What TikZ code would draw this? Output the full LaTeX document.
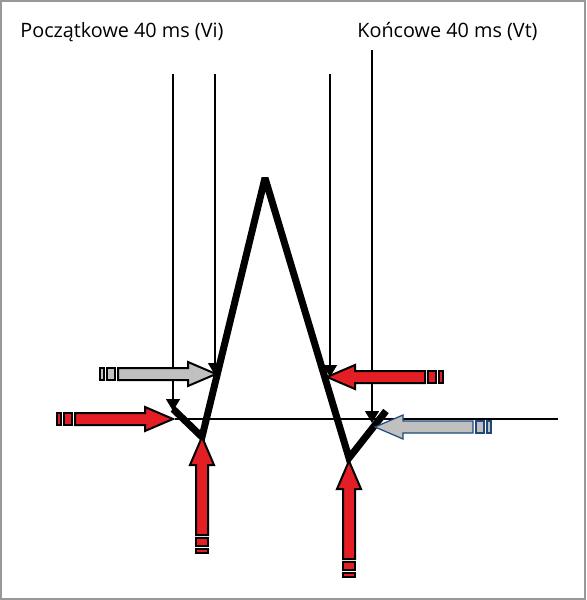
\documentclass[tikz,border=0pt]{standalone}
\usepackage{fontspec}
\setmainfont{Open Sans}
\usetikzlibrary{arrows.meta}

\definecolor{ekgred}{RGB}{227,30,36}
\definecolor{ekggray}{RGB}{192,192,192}
\definecolor{ekgblue}{RGB}{31,73,125}

% block arrow: style, tip coordinate, rotation
\newcommand{\blockarrow}[3]{
\begin{scope}[shift={(#2)},rotate=#3]
	\draw[#1] (0,0) -- (-28,12) -- (-28,6) -- (-98,6) -- (-98,-6) -- (-28,-6) -- (-28,-12) -- cycle;
	\draw[#1] (-101,6) rectangle (-109,-6);
	\draw[#1] (-112,6) rectangle (-116,-6);
\end{scope}
}

\begin{document}
\begin{tikzpicture}[x=0.5pt,y=-0.5pt,
	toplabel/.style={anchor=base west,inner sep=0pt,font=\fontsize{9.9}{12}\selectfont},
	marker/.style={line width=0.7pt,-{Triangle[width=7pt,length=6pt]}},
	redarrow/.style={fill=ekgred,draw=black,line width=1pt,line join=miter},
	grayarrow/.style={fill=ekggray,draw=black,line width=1pt,line join=miter},
	bluearrow/.style={fill=ekggray,draw=ekgblue,line width=0.6pt,line join=miter}]

%frame
\draw[draw=gray!80,line width=1pt,fill=white] (1,1) rectangle (585,599);
\useasboundingbox (0,0) rectangle (586,600);

%labels
\node[toplabel] (vi) at (20,37) {Początkowe 40 ms (Vi)};
\node[toplabel] (vt) at (357,37) {Końcowe 40 ms (Vt)};

%points of the complex
\coordinate (q) at (173,409);
\coordinate (s1) at (202,437);
\coordinate (r) at (265,178);
\coordinate (s2) at (349,458);
\coordinate (j) at (386,411);
\coordinate (up1) at (216,374);
\coordinate (dn1) at (327,377);
\coordinate (j2) at (375,427);

%baseline
\draw[line width=0.6pt] (175,419) -- (558,419);

%time markers
\foreach \x/\top/\bot in {173/74/411,215/74/375,330/74/377,372/50/423}{
	\draw[marker] (\x,\top) -- (\x,\bot);
}

%the complex
\draw[line width=3.5pt,line join=miter,miter limit=3,line cap=butt] (q) -- (s1) -- (r) -- (s2) -- (j);

%block arrows
\blockarrow{grayarrow}{up1}{0}
\blockarrow{redarrow}{173,419}{0}
\blockarrow{redarrow}{s1}{90}
\blockarrow{redarrow}{dn1}{180}
\blockarrow{bluearrow}{j2}{180}
\blockarrow{redarrow}{349,461}{90}

\end{tikzpicture}
\end{document}
